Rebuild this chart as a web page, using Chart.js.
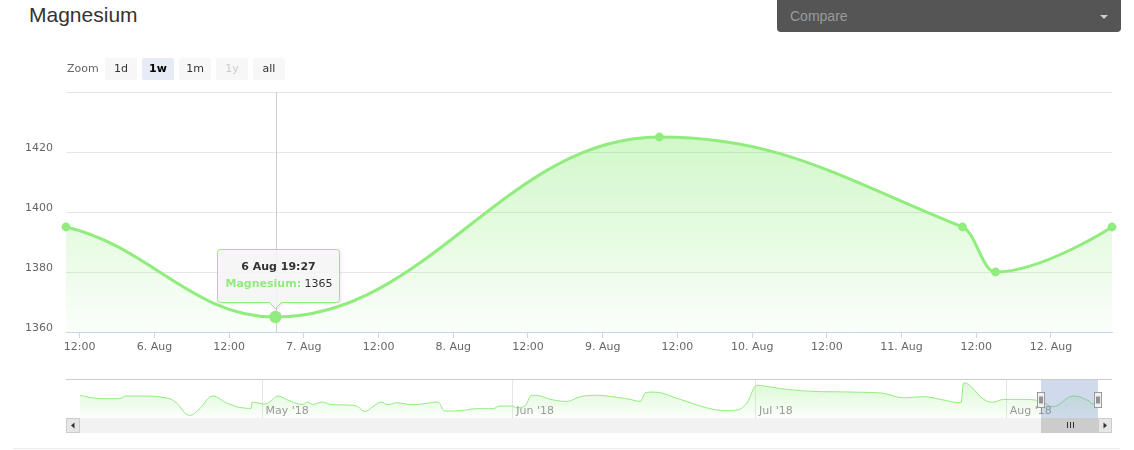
<!DOCTYPE html>
<html>
<head>
<meta charset="utf-8">
<title>Magnesium</title>
<script src="https://cdn.jsdelivr.net/npm/chart.js@4.4.1/dist/chart.umd.min.js"></script>
<style>
  body { margin: 0; background: #fff; width: 1134px; height: 450px; overflow: hidden; position: relative; font-family: "DejaVu Sans", sans-serif; }
  .title { position: absolute; left: 29px; top: 3px; font: 21px "Liberation Sans", Arial, sans-serif; color: #333; }
  .compare { position: absolute; left: 777px; top: -4px; width: 344px; height: 36px; background: #555; border-radius: 4px; }
  .compare span { position: absolute; left: 13px; top: 12px; font: 14px "Liberation Sans", Arial, sans-serif; color: #9a9a9a; }
  .compare i { position: absolute; right: 13px; top: 19px; width: 0; height: 0; border-left: 4px solid transparent; border-right: 4px solid transparent; border-top: 4px solid #ccc; }
  .zoom { position: absolute; left: 67px; top: 58px; z-index: 2; display: flex; font-size: 11px; line-height: 22px; color: #666; }
  .zoom .lbl { width: 38px; }
  .zoom .btn { width: 32px; height: 22px; margin-right: 5px; background: #f7f7f7; color: #333; text-align: center; border-radius: 2px; }
  .zoom .btn.on { background: #e6ebf5; color: #000; font-weight: bold; }
  .zoom .btn.off { color: #ccc; }
  #main { position: absolute; left: 0; top: 70px; }
  #nav { position: absolute; left: 66px; top: 376px; }
  .foot { position: absolute; left: 13px; top: 448px; width: 1107px; height: 1px; background: #ebebeb; }
</style>
</head>
<body>
<div class="title">Magnesium</div>
<div class="compare"><span>Compare</span><i></i></div>
<div class="zoom">
  <span class="lbl">Zoom</span>
  <span class="btn">1d</span>
  <span class="btn on">1w</span>
  <span class="btn">1m</span>
  <span class="btn off">1y</span>
  <span class="btn">all</span>
</div>
<canvas id="main" width="1134" height="300"></canvas>
<canvas id="nav" width="1046" height="60"></canvas>
<div class="foot"></div>

<script>
// visible week, hours counted from 6 Aug 00:00
const weekHours = [-14.2, 19.45, 81.1, 129.8, 135.1, 153.8];
const weekValues = [1395, 1365, 1425, 1395, 1380, 1395];
const hoverIndex = 1;
const seriesName = 'Magnesium';

const tickHours = [-12, 0, 12, 24, 36, 48, 60, 72, 84, 96, 108, 120, 132, 144];
const tickLabels = ['12:00', '6. Aug', '12:00', '7. Aug', '12:00', '8. Aug', '12:00', '9. Aug',
  '12:00', '10. Aug', '12:00', '11. Aug', '12:00', '12. Aug'];
const yTicks = [1360, 1380, 1400, 1420, 1440];

// navigator history before the visible week, days counted from 1 May
const navDays = [-22.45, -19.7, -17.6, -16.75, -14.3, -11.4, -10.55, -8.9, -7.7, -6.05,
  -4.35, -2.35, -1.3, -1.15, -0.25, 0.35, 1.0, 2.0, 3.05, 4.3,
  5.1, 5.7, 6.3, 7.55, 8.4, 11.25, 11.9, 12.75, 13.75, 14.8,
  15.6, 16.7, 18.7, 20.4, 21.8, 22.65, 24.5, 26.6, 28.6, 29.45,
  30.9, 31.55, 32.55, 33.4, 34.4, 36.05, 37.75, 39.4, 41.45, 43.45,
  45.55, 46.8, 47.45, 48.4, 51.75, 55.05, 57.55, 58.8, 60.0, 61.25,
  62.05, 64.95, 68.25, 72.8, 76.9, 79.35, 81.85, 83.95, 86.45, 86.8,
  87.65, 89.3, 90.5, 91.75, 94.25];
const navValues = [1429, 1410, 1410, 1425, 1425, 1410, 1387, 1317, 1352, 1425,
  1387, 1359, 1356, 1391, 1384, 1380, 1391, 1425, 1406, 1384,
  1378, 1391, 1378, 1391, 1378, 1373, 1365, 1339, 1365, 1391,
  1376, 1387, 1376, 1384, 1391, 1341, 1343, 1354, 1354, 1369,
  1369, 1359, 1369, 1429, 1425, 1403, 1395, 1421, 1429, 1421,
  1406, 1395, 1443, 1447, 1406, 1359, 1343, 1347, 1387, 1485,
  1481, 1462, 1451, 1447, 1440, 1415, 1421, 1406, 1387, 1499,
  1481, 1406, 1391, 1406, 1406];
const monthDays = [0, 31, 61, 92];
const monthLabels = ["May '18", "Jun '18", "Jul '18", "Aug '18"];
const week6AugDay = 97;

const green = '#90ed7d';
Chart.defaults.font.family = '"DejaVu Sans", sans-serif';
Chart.defaults.font.size = 11;
Chart.defaults.color = '#666';

// full series in days, history + visible week
const navX = navDays.concat(weekHours.map(h => week6AugDay + h / 24));
const navY = navValues.concat(weekValues);

function pad2(n) { return (n < 10 ? '0' : '') + n; }
function fmtTime(h) {
  const d = Math.floor(h / 24);
  const mins = Math.round((h - d * 24) * 60);
  return (6 + d) + ' Aug ' + pad2(Math.floor(mins / 60)) + ':' + pad2(mins % 60);
}

function fillGradient(ctx, a0, a1) {
  const area = ctx.chart.chartArea;
  if (!area) return null;
  const g = ctx.chart.ctx.createLinearGradient(0, area.top, 0, area.bottom);
  g.addColorStop(0, 'rgba(144,237,125,' + a0 + ')');
  g.addColorStop(1, 'rgba(144,237,125,' + a1 + ')');
  return g;
}

// spline control points in the stock-chart manner (flat at local extremes)
function splineControls(pts) {
  const n = pts.length;
  return pts.map((p, i) => {
    if (i === 0 || i === n - 1) return { lx: p.x, ly: p.y, rx: p.x, ry: p.y };
    const a = pts[i - 1], b = pts[i + 1], s = 1.5, den = 2.5;
    const lx = (s * p.x + a.x) / den, rx = (s * p.x + b.x) / den;
    let ly = (s * p.y + a.y) / den, ry = (s * p.y + b.y) / den;
    if (rx !== lx) {
      const corr = ((ry - ly) * (rx - p.x)) / (rx - lx) + p.y - ry;
      ly += corr; ry += corr;
    }
    if (ly > a.y && ly > p.y) { ly = Math.max(a.y, p.y); ry = 2 * p.y - ly; }
    else if (ly < a.y && ly < p.y) { ly = Math.min(a.y, p.y); ry = 2 * p.y - ly; }
    if (ry > b.y && ry > p.y) { ry = Math.max(b.y, p.y); ly = 2 * p.y - ry; }
    else if (ry < b.y && ry < p.y) { ry = Math.min(b.y, p.y); ly = 2 * p.y - ry; }
    return { lx, ly, rx, ry };
  });
}

function applyControls(chart, toX) {
  const xs = chart.scales.x, ys = chart.scales.y;
  const pix = navX.map((d, i) => ({ x: xs.getPixelForValue(toX(d)), y: ys.getPixelForValue(navY[i]) }));
  const cps = splineControls(pix);
  const els = chart.getDatasetMeta(0).data;
  const offset = navX.length - els.length;
  els.forEach((el, k) => {
    const c = cps[k + offset];
    el.cp1x = c.lx; el.cp1y = c.ly; el.cp2x = c.rx; el.cp2y = c.ry;
  });
}

// crosshair behind the series, tooltip on top
const mainPlugin = {
  id: 'mainDecor',
  beforeDatasetsDraw(chart) {
    applyControls(chart, d => (d - week6AugDay) * 24);
    const p = chart.getDatasetMeta(0).data[hoverIndex];
    const { ctx, chartArea } = chart;
    ctx.save();
    ctx.strokeStyle = '#cccccc';
    ctx.lineWidth = 1;
    ctx.beginPath();
    ctx.moveTo(Math.round(p.x) + 0.5, chartArea.top);
    ctx.lineTo(Math.round(p.x) + 0.5, chartArea.bottom);
    ctx.stroke();
    ctx.restore();
  },
  afterDraw(chart) {
    const p = chart.getDatasetMeta(0).data[hoverIndex];
    const ctx = chart.ctx;
    const w = 122, h = 53;
    const left = Math.round(p.x - 59) + 0.5;
    const top = Math.round(p.y - 68) + 0.5;
    const cx = p.x;
    ctx.save();
    ctx.beginPath();
    ctx.moveTo(left + 3, top);
    ctx.lineTo(left + w - 3, top);
    ctx.quadraticCurveTo(left + w, top, left + w, top + 3);
    ctx.lineTo(left + w, top + h - 3);
    ctx.quadraticCurveTo(left + w, top + h, left + w - 3, top + h);
    ctx.lineTo(cx + 6, top + h);
    ctx.lineTo(cx, top + h + 6);
    ctx.lineTo(cx - 6, top + h);
    ctx.lineTo(left + 3, top + h);
    ctx.quadraticCurveTo(left, top + h, left, top + h - 3);
    ctx.lineTo(left, top + 3);
    ctx.quadraticCurveTo(left, top, left + 3, top);
    ctx.closePath();
    ctx.shadowColor = 'rgba(0,0,0,0.12)';
    ctx.shadowOffsetX = 1;
    ctx.shadowOffsetY = 1;
    ctx.shadowBlur = 3;
    ctx.fillStyle = 'rgba(247,247,247,0.9)';
    ctx.fill();
    ctx.shadowColor = 'transparent';
    ctx.strokeStyle = green;
    ctx.lineWidth = 1;
    ctx.stroke();

    ctx.textBaseline = 'alphabetic';
    ctx.textAlign = 'center';
    ctx.fillStyle = '#333';
    ctx.font = 'bold 11px "DejaVu Sans"';
    ctx.fillText(fmtTime(weekHours[hoverIndex]), left + w / 2, top + 20);

    ctx.textAlign = 'left';
    const nameTxt = seriesName + ':';
    ctx.fillStyle = green;
    ctx.fillText(nameTxt, left + 8, top + 37);
    const nw = ctx.measureText(nameTxt).width;
    ctx.font = '11px "DejaVu Sans"';
    ctx.fillStyle = '#333';
    ctx.fillText(' ' + weekValues[hoverIndex], left + 8 + nw, top + 37);
    ctx.restore();
  }
};

new Chart(document.getElementById('main'), {
  type: 'line',
  data: {
    datasets: [{
      label: seriesName,
      data: weekHours.map((h, i) => ({ x: h, y: weekValues[i] })),
      borderColor: green,
      borderWidth: 3,
      backgroundColor: (ctx) => fillGradient(ctx, 0.5, 0.04),
      fill: 'start',
      tension: 0.4,
      pointRadius: (ctx) => ctx.dataIndex === hoverIndex ? 6.2 : 4.4,
      pointBackgroundColor: green,
      pointBorderWidth: 0,
      clip: false
    }]
  },
  options: {
    responsive: false,
    animation: false,
    events: [],
    layout: { padding: { top: 22, left: 25, right: 22, bottom: 0 } },
    plugins: { legend: { display: false }, tooltip: { enabled: false } },
    scales: {
      x: {
        type: 'linear',
        min: weekHours[0],
        max: weekHours[weekHours.length - 1],
        afterBuildTicks: (scale) => { scale.ticks = tickHours.map(v => ({ value: v })); },
        afterFit: (scale) => { scale.height = 38; },
        grid: { drawOnChartArea: false, drawTicks: true, tickLength: 6, color: '#ccd6eb' },
        border: { color: '#ccd6eb' },
        ticks: {
          autoSkip: false, maxRotation: 0, padding: 3, color: '#666',
          callback: (v, i) => tickLabels[i]
        }
      },
      y: {
        min: yTicks[0],
        max: yTicks[yTicks.length - 1],
        afterBuildTicks: (scale) => { scale.ticks = yTicks.map(v => ({ value: v })); },
        afterFit: (scale) => { scale.width = 41; },
        grid: { color: '#e6e6e6', drawTicks: false },
        border: { display: false },
        ticks: {
          crossAlign: 'far', labelOffset: -4, color: '#666',
          callback: (v) => v === yTicks[yTicks.length - 1] ? '' : v
        }
      }
    }
  },
  plugins: [mainPlugin]
});

// navigator
const selFrom = navX[navDays.length];
const selTo = navX[navX.length - 1];

const navPlugin = {
  id: 'navDecor',
  beforeDatasetsDraw(chart) {
    applyControls(chart, d => d);
    const { ctx, chartArea, scales } = chart;
    ctx.save();
    ctx.strokeStyle = '#e6e6e6';
    ctx.lineWidth = 1;
    monthDays.forEach(d => {
      const x = Math.round(scales.x.getPixelForValue(d)) + 0.5;
      ctx.beginPath();
      ctx.moveTo(x, chartArea.top);
      ctx.lineTo(x, chartArea.bottom);
      ctx.stroke();
    });
    ctx.restore();
  },
  afterDatasetsDraw(chart) {
    const { ctx, chartArea, scales, width } = chart;
    ctx.save();
    ctx.font = '11px "DejaVu Sans"';
    ctx.fillStyle = '#999';
    ctx.textBaseline = 'alphabetic';
    monthDays.forEach((d, i) => {
      ctx.fillText(monthLabels[i], scales.x.getPixelForValue(d) + 4, chartArea.bottom - 4);
    });

    const x0 = Math.round(scales.x.getPixelForValue(selFrom));
    const x1 = Math.round(scales.x.getPixelForValue(selTo));
    // selection mask
    ctx.fillStyle = 'rgba(102,133,194,0.3)';
    ctx.fillRect(x0, chartArea.top, x1 - x0, chartArea.bottom - chartArea.top);

    // outline
    ctx.strokeStyle = '#cccccc';
    ctx.beginPath();
    ctx.moveTo(0, chartArea.top + 0.5);
    ctx.lineTo(width, chartArea.top + 0.5);
    ctx.stroke();

    // scrollbar
    const sy = chartArea.bottom, sh = 15;
    ctx.fillStyle = '#f2f2f2';
    ctx.fillRect(0, sy, width, sh);
    ctx.fillStyle = '#cccccc';
    ctx.fillRect(x0, sy, x1 - x0, sh);
    ctx.strokeStyle = '#333';
    const gx = Math.round((x0 + x1) / 2) + 0.5;
    [-3, 0, 3].forEach(o => {
      ctx.beginPath();
      ctx.moveTo(gx + o, sy + 4);
      ctx.lineTo(gx + o, sy + 10);
      ctx.stroke();
    });
    [[0, -1], [width - 14, 1]].forEach(([bx, dir]) => {
      ctx.fillStyle = '#e6e6e6';
      ctx.fillRect(bx, sy, 14, sh);
      ctx.strokeStyle = '#cccccc';
      ctx.strokeRect(bx + 0.5, sy + 0.5, 13, sh - 1);
      ctx.fillStyle = '#333';
      const cx = bx + 7, cy = sy + 7.5;
      ctx.beginPath();
      ctx.moveTo(cx + dir * 2, cy);
      ctx.lineTo(cx - dir * 1.5, cy - 3);
      ctx.lineTo(cx - dir * 1.5, cy + 3);
      ctx.closePath();
      ctx.fill();
    });

    // handles
    [x0, x1].forEach(hx => {
      const l = hx - 3.5, t = chartArea.top + 13.5;
      ctx.fillStyle = '#f2f2f2';
      ctx.fillRect(l, t, 7, 15);
      ctx.strokeStyle = '#999';
      ctx.strokeRect(l, t, 7, 15);
      ctx.strokeStyle = '#333';
      ctx.beginPath();
      ctx.moveTo(hx - 1, t + 4); ctx.lineTo(hx - 1, t + 11);
      ctx.moveTo(hx + 1, t + 4); ctx.lineTo(hx + 1, t + 11);
      ctx.stroke();
    });
    ctx.restore();
  }
};

new Chart(document.getElementById('nav'), {
  type: 'line',
  data: {
    datasets: [{
      data: navX.map((d, i) => ({ x: d, y: navY[i] })),
      borderColor: green,
      borderWidth: 1,
      backgroundColor: (ctx) => fillGradient(ctx, 0.35, 0.03),
      fill: 'start',
      tension: 0.4,
      pointRadius: 0
    }]
  },
  options: {
    responsive: false,
    animation: false,
    events: [],
    layout: { padding: { top: 3, left: 14, right: 14, bottom: 18 } },
    plugins: { legend: { display: false }, tooltip: { enabled: false } },
    scales: {
      x: { type: 'linear', display: false, min: navX[0], max: navX[navX.length - 1] },
      y: { display: false, min: 1302, max: 1520 }
    }
  },
  plugins: [navPlugin]
});
</script>
</body>
</html>
